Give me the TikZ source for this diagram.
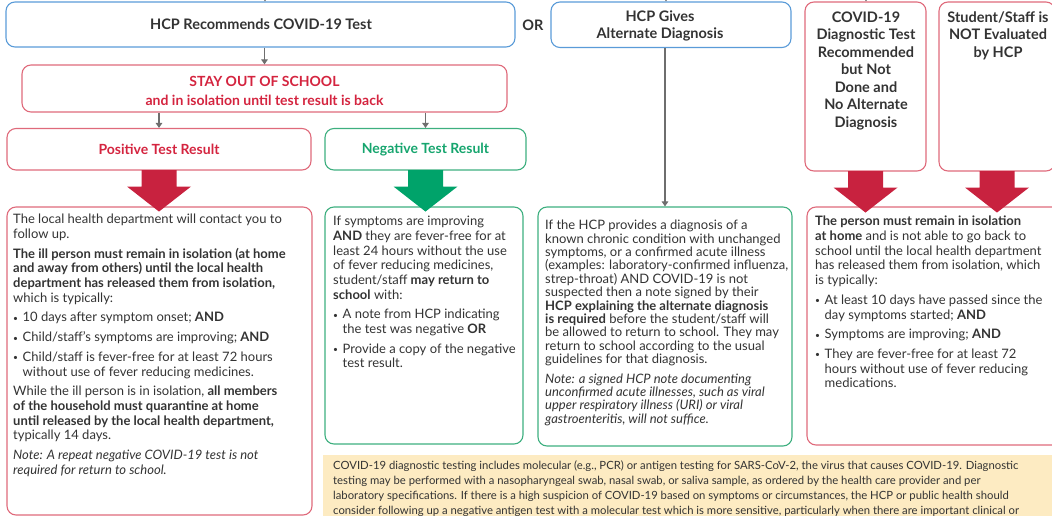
\documentclass[tikz,border=0pt]{standalone}
\usepackage{fontspec}
\setmainfont{Lato}
\usetikzlibrary{arrows.meta,fit}
\definecolor{txt}{HTML}{333333}
\definecolor{bblue}{HTML}{5A9BD8}
\definecolor{bred}{HTML}{DF6A7B}
\definecolor{bgreen}{HTML}{3DAF7F}
\definecolor{tred}{HTML}{D4243F}
\definecolor{tgreen}{HTML}{16A56E}
\definecolor{ared}{HTML}{C8223F}
\definecolor{agreen}{HTML}{00A36A}
\definecolor{cgray}{HTML}{6E6E6E}
\definecolor{ybg}{HTML}{FDEBC2}
\newcommand{\bul}{\makebox[9.5bp][l]{\raisebox{0.6bp}{\fontsize{8.5bp}{8.5bp}\selectfont •}}}
\newcommand{\ind}{\hspace*{9.5bp}}
\begin{document}
\begin{tikzpicture}[x=1bp,y=-1bp,
  box/.style={draw, line width=1.1bp, rounded corners=9bp, inner sep=0pt},
  bluebox/.style={box, draw=bblue},
  redbox/.style={box, draw=bred},
  greenbox/.style={box, draw=bgreen},
  head/.style={font=\fontsize{14.5bp}{17.5bp}\selectfont\bfseries, text=txt, align=center, inner sep=0pt},
  body/.style={font=\fontsize{13bp}{14.7bp}\selectfont, text=txt, align=left, inner sep=0pt, anchor=north west},
  conn/.style={draw=cgray, line width=1.1bp, -{Triangle[length=5bp,width=6.5bp]}},
  fatarrow/.pic={\fill[#1] (-17.5,-0.5) -- (17.5,-0.5) -- (17.5,16) -- (32,16) -- (0,41) -- (-32,16) -- (-17.5,16) -- cycle;}
]
\useasboundingbox (0,0) rectangle (1052,516);
\clip (0,0) rectangle (1052,516);

% top row
\node[bluebox, fit={(6,2) (515,47)}] (hcptest) {};
\node[head] (hcptesttxt) at (261,24.5) {HCP Recommends COVID-19 Test};
\node[head] (or) at (533,25) {OR};
\node[bluebox, fit={(551,2) (791,47.5)}] (gives) {};
\node[head, font=\fontsize{14.5bp}{17bp}\selectfont\bfseries] (givestxt) at (660,26) {HCP Gives\\Alternate Diagnosis};
\node[redbox, fit={(805,2) (926,171)}] (covid) {};
\node[head, anchor=north] (covidtxt) at (866,11.5) {COVID-19\\Diagnostic Test\\Recommended\\but Not\\Done and\\No Alternate\\Diagnosis};
\node[redbox, fit={(939,2) (1055,171)}] (noeval) {};
\node[head, anchor=north] (noevaltxt) at (998,11.5) {Student/Staff is\\NOT Evaluated\\by HCP};

% stay out of school
\node[redbox, fit={(22,65) (507,112)}] (stay) {};
\node[align=center, inner sep=0pt, text=tred, font=\bfseries\fontsize{14bp}{19bp}\selectfont] (staytxt) at (264.5,91) {STAY OUT OF SCHOOL\\{\fontsize{14bp}{19bp}\selectfont and in isolation until test result is back}};

% results
\node[redbox, fit={(7,128.5) (311,170)}] (pos) {};
\node[inner sep=0pt, text=tred, font=\bfseries\fontsize{14bp}{16bp}\selectfont] (postitle) at (159,149.5) {Positive Test Result};
\node[greenbox, fit={(325,128.5) (526,170)}] (neg) {};
\node[inner sep=0pt, text=tgreen, font=\bfseries\fontsize{14bp}{16bp}\selectfont] (negtitle) at (425.5,149.5) {Negative Test Result};

% content boxes
\node[redbox, fit={(7,207) (312,515)}] (posbox) {};
\node[greenbox, fit={(325,207) (523,444)}] (negbox) {};
\node[greenbox, fit={(538,207) (792,446)}] (altbox) {};
\node[redbox, fit={(807,207) (1065,445)}] (isobox) {};
\node[fill=ybg, inner sep=0pt, fit={(323,455) (1070,540)}] (note) {};

% connectors
\coordinate (in1) at (265,-10);
\coordinate (in2) at (666,-10);
\coordinate (in3) at (866,-10);
\draw[conn] (in1) -- (in1 |- hcptest.north);
\draw[conn] (in2) -- (in2 |- gives.north);
\draw[conn] (in3) -- (in3 |- covid.north);
\draw[conn] (stay.north |- hcptest.south) -- (stay.north);
\draw[conn] (pos.north |- stay.south) -- (pos.north);
\draw[conn] (neg.north |- stay.south) -- (neg.north);
\draw[conn] (altbox.north |- gives.south) -- (altbox.north);

% big arrows
\pic at (pos.south) {fatarrow=ared};
\pic at (neg.south) {fatarrow=agreen};
\pic at (covid.south) {fatarrow=ared};
\pic at (noeval.south) {fatarrow=ared};

% texts
\node[body] (postxt) at (13,214) {The local health department will contact you to\\
follow up.\\[5bp]
\textbf{The ill person must remain in isolation (at home}\\
\textbf{and away from others) until the local health}\\
\textbf{department has released them from isolation,}\\
which is typically:\\[5bp]
\bul 10 days after symptom onset; \textbf{AND}\\[5bp]
\bul Child/staff’s symptoms are improving; \textbf{AND}\\[5bp]
\bul Child/staff is fever-free for at least 72 hours\\
\ind without use of fever reducing medicines.\\[5bp]
While the ill person is in isolation, \textbf{all members}\\
\textbf{of the household must quarantine at home}\\
\textbf{until released by the local health department,}\\
typically 14 days.\\[5bp]
\textit{Note: A repeat negative COVID-19 test is not}\\
\textit{required for return to school.}};

\node[body] (negtxt) at (333,216) {If symptoms are improving\\
\textbf{AND} they are fever-free for at\\
least 24 hours without the use\\
of fever reducing medicines,\\
student/staff \textbf{may return to}\\
\textbf{school} with:\\[5bp]
\bul A note from HCP indicating\\
\ind the test was negative \textbf{OR}\\[5bp]
\bul Provide a copy of the negative\\
\ind test result.};

\node[body, font=\fontsize{13bp}{13.4bp}\selectfont] (alttxt) at (545,220) {If the HCP provides a diagnosis of a\\
known chronic condition with unchanged\\
symptoms, or a confirmed acute illness\\
(examples: laboratory-confirmed influenza,\\
strep-throat) AND COVID-19 is not\\
suspected then a note signed by their\\
\textbf{HCP explaining the alternate diagnosis}\\
\textbf{is required} before the student/staff will\\
be allowed to return to school. They may\\
return to school according to the usual\\
guidelines for that diagnosis.\\[6bp]
\textit{Note: a signed HCP note documenting}\\
\textit{unconfirmed acute illnesses, such as viral}\\
\textit{upper respiratory illness (URI) or viral}\\
\textit{gastroenteritis, will not suffice.}};

\node[body] (isotxt) at (815,216) {\textbf{The person must remain in isolation}\\
\textbf{at home} and is not able to go back to\\
school until the local health department\\
has released them from isolation, which\\
is typically:\\[5bp]
\bul At least 10 days have passed since the\\
\ind day symptoms started; \textbf{AND}\\[5bp]
\bul Symptoms are improving; \textbf{AND}\\[5bp]
\bul They are fever-free for at least 72\\
\ind hours without use of fever reducing\\
\ind medications.};

\node[body, font=\fontsize{11.3bp}{15bp}\selectfont] (notetxt) at (333,461) {COVID-19 diagnostic testing includes molecular (e.g., PCR) or antigen testing for SARS-CoV-2, the virus that causes COVID-19. Diagnostic\\
testing may be performed with a nasopharyngeal swab, nasal swab, or saliva sample, as ordered by the health care provider and per\\
laboratory specifications. If there is a high suspicion of COVID-19 based on symptoms or circumstances, the HCP or public health should\\
consider following up a negative antigen test with a molecular test which is more sensitive, particularly when there are important clinical or};
\end{tikzpicture}
\end{document}
